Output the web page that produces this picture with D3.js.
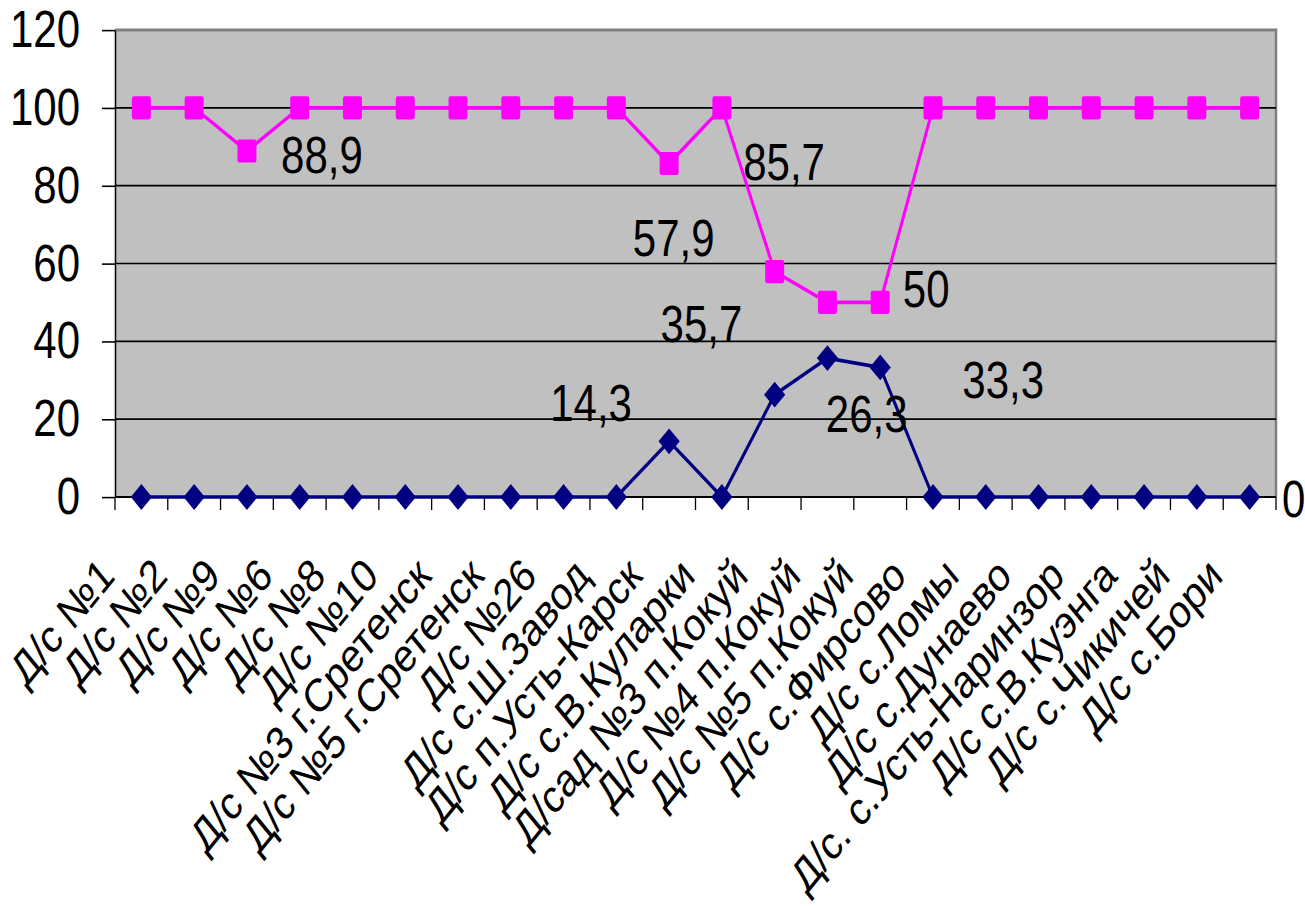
<!DOCTYPE html>
<html>
<head>
<meta charset="utf-8">
<script src="https://cdn.jsdelivr.net/npm/d3@7"></script>
<style>
  body { margin: 0; background: #fff; }
  text { font-family: "Liberation Sans", Arial, sans-serif; fill: #000; }
</style>
</head>
<body>
<svg id="chart" width="1305" height="906"></svg>
<script>
// categories (kindergartens)
let categories = ["Д/с №1", "Д/с №2", "Д/с №9", "Д/с №6", "Д/с №8", "Д/с №10",
    "Д/с №3 г.Сретенск", "Д/с №5 г.Сретенск", "Д/с №26", "Д/с с.Ш.Завод",
    "Д/с п.Усть-Карск", "Д/с с.В.Куларки", "Д/сад №3 п.Кокуй", "Д/с №4 п.Кокуй",
    "Д/с №5 п.Кокуй", "Д/с с.Фирсово", "Д/с с.Ломы", "Д/с с.Дунаево",
    "Д/с. с.Усть-Наринзор", "Д/с с.В.Куэнга", "Д/с с.Чикичей", "Д/с с.Бори"];

// blue series (diamonds)
let low_values = [0, 0, 0, 0, 0, 0, 0, 0, 0, 0, 14.3, 0, 26.3, 35.7, 33.3, 0, 0, 0, 0, 0, 0, 0];
// magenta series (squares)
let high_values = [100, 100, 88.9, 100, 100, 100, 100, 100, 100, 100, 85.7, 100, 57.9, 50, 50, 100, 100, 100, 100, 100, 100, 100];

let y_ticks = [0, 20, 40, 60, 80, 100, 120];

// which points carry a data label
let data_labels = [
    { series: "high", index: 2 }, { series: "high", index: 10 }, { series: "high", index: 12 },
    { series: "high", index: 14 }, { series: "low", index: 13 }, { series: "low", index: 10 },
    { series: "low", index: 12 }, { series: "low", index: 14 }, { series: "low", index: 21 }
];
// where each label sits relative to its point (screen px)
let label_offsets = [[75, 4], [115, -1], [-101, -33], [46, -13], [-126, -34], [-78, -38], [92, 20], [123, 13], [44, 3]];

// the original picture is stretched vertically
let K = 1.22;
let plot_left = 115, plot_right = 1276, plot_top = 30, plot_bottom = 497;

let svg = d3.select('#chart');
let g = svg.append('g').attr('transform', 'scale(1,' + K + ')');

let x = d3.scaleBand().domain(d3.range(categories.length)).range([plot_left, plot_right]);
let y = d3.scaleLinear().domain([0, 120]).range([plot_bottom / K, plot_top / K]);
let cx = function (i) { return x(i) + x.bandwidth() / 2; };

// plot area
g.append('rect')
    .attr('x', plot_left).attr('y', plot_top / K)
    .attr('width', plot_right - plot_left).attr('height', (plot_bottom - plot_top) / K)
    .attr('fill', '#c0c0c0');

g.append('path')
    .attr('d', 'M' + plot_left + ',' + (plot_top / K) + 'H' + plot_right + 'V' + (plot_bottom / K))
    .attr('fill', 'none')
    .attr('stroke', '#808080')
    .attr('stroke-width', 2.5);

// gridlines
g.selectAll('line.grid')
    .data(y_ticks.filter(function (d) { return d > 0 && d < 120; }))
    .join('line')
    .attr('class', 'grid')
    .attr('x1', plot_left).attr('x2', plot_right)
    .attr('y1', function (d) { return y(d); })
    .attr('y2', function (d) { return y(d); })
    .attr('stroke', '#000')
    .attr('stroke-width', 1.3);

// y axis
let yAxis = g.append('g')
    .attr('transform', 'translate(' + plot_left + ',0)')
    .call(d3.axisLeft(y).tickValues(y_ticks).tickSize(13).tickSizeOuter(0).tickPadding(22));
yAxis.select('.domain').attr('stroke', '#000').attr('stroke-width', 1.5);
yAxis.selectAll('.tick line').attr('stroke', '#000').attr('stroke-width', 1.3);
yAxis.selectAll('.tick text')
    .attr('font-size', 42)
    .attr('font-family', '"Liberation Sans", Arial, sans-serif')
    .attr('fill', '#000');

// x axis line and ticks on category boundaries
g.append('line')
    .attr('x1', plot_left).attr('x2', plot_right)
    .attr('y1', plot_bottom / K).attr('y2', plot_bottom / K)
    .attr('stroke', '#000').attr('stroke-width', 1.5);

g.selectAll('line.xtick')
    .data(d3.range(categories.length + 1))
    .join('line')
    .attr('class', 'xtick')
    .attr('x1', function (i) { return plot_left + i * x.step(); })
    .attr('x2', function (i) { return plot_left + i * x.step(); })
    .attr('y1', plot_bottom / K)
    .attr('y2', (plot_bottom + 13) / K)
    .attr('stroke', '#000')
    .attr('stroke-width', 1.3);

// category labels
g.selectAll('text.cat')
    .data(categories)
    .join('text')
    .attr('class', 'cat')
    .attr('transform', function (d, i) { return 'translate(' + (cx(i) - 25) + ',' + (578 / K) + ') rotate(-45)'; })
    .attr('text-anchor', 'end')
    .attr('font-size', 38)
    .text(function (d) { return d; });

// lines
let line = d3.line()
    .x(function (d, i) { return cx(i); })
    .y(function (d) { return y(d); });

g.append('path')
    .datum(low_values)
    .attr('d', line)
    .attr('fill', 'none')
    .attr('stroke', '#000080')
    .attr('stroke-width', 3);

g.append('path')
    .datum(high_values)
    .attr('d', line)
    .attr('fill', 'none')
    .attr('stroke', '#ff00ff')
    .attr('stroke-width', 3);

// diamond markers
g.selectAll('rect.low')
    .data(low_values)
    .join('rect')
    .attr('class', 'low')
    .attr('x', -7.5).attr('y', -7.5)
    .attr('width', 15).attr('height', 15)
    .attr('transform', function (d, i) { return 'translate(' + cx(i) + ',' + y(d) + ') rotate(45)'; })
    .attr('fill', '#000080');

// square markers
g.selectAll('rect.high')
    .data(high_values)
    .join('rect')
    .attr('class', 'high')
    .attr('x', function (d, i) { return cx(i) - 9.5; })
    .attr('y', function (d) { return y(d) - 9.5; })
    .attr('width', 19).attr('height', 19)
    .attr('rx', 2)
    .attr('fill', '#ff00ff');

// data labels
let series = { low: low_values, high: high_values };
g.selectAll('text.val')
    .data(data_labels)
    .join('text')
    .attr('class', 'val')
    .attr('x', function (d, k) { return cx(d.index) + label_offsets[k][0]; })
    .attr('y', function (d, k) { return y(series[d.series][d.index]) + label_offsets[k][1] / K; })
    .attr('text-anchor', 'middle')
    .attr('dominant-baseline', 'central')
    .attr('font-size', 42)
    .text(function (d) { return String(series[d.series][d.index]).replace('.', ','); });
</script>
</body>
</html>
